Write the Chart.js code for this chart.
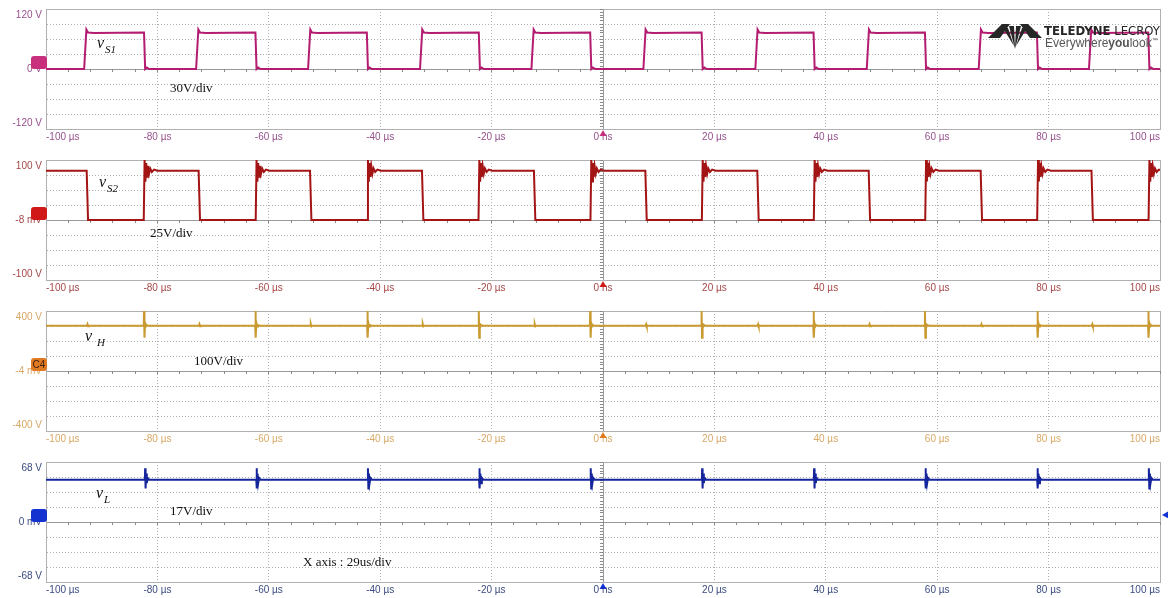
<!DOCTYPE html>
<html lang="es">
<head>
<meta charset="utf-8">
<title>Formas de onda</title>
<script src="https://cdn.jsdelivr.net/npm/chart.js@4.4.1/dist/chart.umd.min.js"></script>
<style>
  html, body { margin: 0; padding: 0; background: #fff; }
  body { position: relative; width: 1168px; height: 598px; overflow: hidden; }
  .panel { position: absolute; left: 0; width: 1168px; height: 145px; }
  .nota { position: absolute; font: 13px "Liberation Serif", "Times New Roman", serif; line-height: 1; color: #111; white-space: nowrap; z-index: 2; }
  .sim { position: absolute; font: italic 16px "Liberation Serif", serif; line-height: 1; color: #111; white-space: nowrap; z-index: 2; }
  .sim span { font-size: 11px; position: relative; top: 5px; margin-left: 1px; }
  .marca { position: absolute; z-index: 2; white-space: nowrap; }
</style>
</head>
<body>
<div class="panel" style="top:0"><canvas id="c0"></canvas></div>
<div class="panel" style="top:151px"><canvas id="c1"></canvas></div>
<div class="panel" style="top:302px"><canvas id="c2"></canvas></div>
<div class="panel" style="top:453px"><canvas id="c3"></canvas></div>

<div class="sim" style="left:97px;top:35px">v<span>S1</span></div>
<div class="nota" style="left:170px;top:81px">30V/div</div>
<div class="sim" style="left:99px;top:174px">v<span>S2</span></div>
<div class="nota" style="left:150px;top:226px">25V/div</div>
<div class="sim" style="left:85px;top:328px">v<span style="margin-left:5px">H</span></div>
<div class="nota" style="left:194px;top:354px">100V/div</div>
<div class="sim" style="left:96px;top:485px">v<span>L</span></div>
<div class="nota" style="left:170px;top:504px">17V/div</div>
<div class="nota" style="left:303px;top:555px">X axis : 29us/div</div>

<svg class="marca" style="left:987px;top:22px" width="56" height="28" viewBox="0 0 56 28">
  <polygon points="1,16 15,2 23,2 13,16" fill="#262626"/>
  <polygon points="55,16 41,2 33,2 43,16" fill="#262626"/>
  <polygon points="22,4 27,4 28,27" fill="#262626"/>
  <polygon points="29,4 34,4 28,27" fill="#262626"/>
  <polygon points="16,6 21,6 27,24" fill="#262626"/>
  <polygon points="40,6 35,6 29,24" fill="#262626"/>
</svg>
<div class="marca" style="left:1044px;top:24px;font:13px 'DejaVu Sans Condensed','Liberation Sans Narrow',sans-serif;line-height:1;color:#262626">
  <b>TELEDYNE</b> LECROY</div>
<div class="marca" style="left:1045px;top:37px;font:12px 'Liberation Sans',sans-serif;line-height:1;color:#555">
  Everywhere<b>you</b>look<sup style="font-size:6px">™</sup></div>

<script>
// Eje de tiempo (µs)
const tiempoMin = -100;
const tiempoMax = 100;
const tiempoPaso = 20;

// Escalas verticales (V en el borde superior) y etiqueta central de cada canal
const escalas = [120, 100, 400, 68];
const etiquetasCentro = ['0 V', '-8 mV', '-4 mV', '0 mV'];

const s1Subidas = [-92.9, -72.8, -52.7, -32.6, -12.6, 7.5, 27.6, 47.6, 67.7, 87.5];
const s1Bajadas = [-82.3, -62.3, -42.3, -22.2, -2.2, 17.8, 37.9, 57.9, 78.0, 98.0];
// forma de cada flanco: [desfase µs, tensión V]
const s1FormaSubida = [[-0.25, 0], [0.15, 79], [0.45, 73], [1.5, 72]];
const s1FormaBajada = [[-0.1, 73], [0.1, 0], [0.4, 3], [0.8, 0]];

// vS2
const s2Bajadas = [-92.6, -72.5, -52.5, -32.4, -12.3, 7.7, 27.8, 47.8, 67.9, 87.8];
const s2Subidas = [-82.4, -62.3, -42.3, -22.3, -2.2, 17.8, 37.9, 57.9, 78.0, 98.0];
const s2FormaBajada = [[-0.1, 82], [0.15, 0]];
const s2FormaSubida = [[-0.05, 0], [0.1, 100], [0.25, 64], [0.4, 95], [0.55, 72], [0.7, 90],
                       [0.9, 77], [1.1, 86], [1.4, 80], [1.8, 84], [2.4, 82]];

// vH
const hPicos = [-82.4, -62.4, -42.3, -22.3, -2.3, 17.7, 37.8, 57.8, 78.0, 97.9];
const hMarcas = [-92.6, -72.5, -52.5, -32.4, -12.3, 7.7, 27.8, 47.8, 67.9, 87.8];
const hFormaPico = [[-0.05, 302], [0.0, 400], [0.08, 222], [0.18, 318], [0.3, 296], [0.45, 306], [0.7, 302]];
const hFormaMarca = [[-0.05, 302], [0.05, 312], [0.15, 298], [0.3, 302]];

// vL
const lPicos = [-82.2, -62.2, -42.2, -22.2, -2.2, 17.8, 37.9, 57.9, 78.0, 98.0];
const lFormaPico = [[-0.05, 48], [0.0, 61], [0.08, 38], [0.18, 55], [0.3, 44], [0.45, 50], [0.7, 48]];

// Niveles iniciales en t = -100 µs
const nivelesIniciales = [0, 82, 302, 48];

// Colores por canal
const coloresTraza = ['#b31c70', '#a31414', '#c99a30', '#15259c'];
const coloresEtiqueta = ['#96508c', '#a64848', '#d8a866', '#3c4c80'];
const coloresMarca = ['#c8307e', '#d01818', '#e07a22', '#1432d0'];
const textosMarca = ['', '', 'C4', ''];

// Arma la lista de puntos a partir de los eventos
function armarTraza(nivelInicial, grupos) {
    const eventos = [];
    grupos.forEach(([tiempos, forma]) => tiempos.forEach(t => eventos.push({ t, forma })));
    eventos.sort((a, b) => a.t - b.t);

    const puntos = [{ x: tiempoMin, y: nivelInicial }];
    eventos.forEach(ev => {
        ev.forma.forEach(([dt, v]) => puntos.push({ x: ev.t + dt, y: v }));
    });
    const ultimo = puntos[puntos.length - 1];
    if (ultimo.x < tiempoMax) puntos.push({ x: tiempoMax, y: ultimo.y });
    return puntos;
}

const trazas = [
    armarTraza(nivelesIniciales[0], [[s1Subidas, s1FormaSubida], [s1Bajadas, s1FormaBajada]]),
    armarTraza(nivelesIniciales[1], [[s2Bajadas, s2FormaBajada], [s2Subidas, s2FormaSubida]]),
    armarTraza(nivelesIniciales[2], [[hPicos, hFormaPico], [hMarcas, hFormaMarca]]),
    armarTraza(nivelesIniciales[3], [[lPicos, lFormaPico]])
];

// Marcador de canal, flecha de disparo y nivel de disparo
const marcasCanal = {
    id: 'marcasCanal',
    afterDraw(chart, args, opts) {
        const { ctx, chartArea, scales } = chart;
        const y0 = scales.y.getPixelForValue(0);
        const x0 = scales.x.getPixelForValue(0);
        ctx.save();

        ctx.fillStyle = opts.color;
        ctx.beginPath();
        ctx.roundRect(chartArea.left - 15, y0 - 13, 16, 13, 3);
        ctx.fill();
        if (opts.texto) {
            ctx.fillStyle = '#402010';
            ctx.font = '10px "Liberation Sans"';
            ctx.textAlign = 'center';
            ctx.textBaseline = 'middle';
            ctx.fillText(opts.texto, chartArea.left - 7, y0 - 6);
        }

        ctx.fillStyle = opts.color;
        ctx.beginPath();
        ctx.moveTo(x0, chartArea.bottom + 1);
        ctx.lineTo(x0 - 3.5, chartArea.bottom + 7);
        ctx.lineTo(x0 + 3.5, chartArea.bottom + 7);
        ctx.closePath();
        ctx.fill();

        if (opts.nivel !== undefined) {
            const yl = scales.y.getPixelForValue(opts.nivel);
            ctx.beginPath();
            ctx.moveTo(chartArea.right + 2, yl);
            ctx.lineTo(chartArea.right + 9, yl - 4);
            ctx.lineTo(chartArea.right + 9, yl + 4);
            ctx.closePath();
            ctx.fill();
        }
        ctx.restore();
    }
};

const fuenteEjes = { family: 'Liberation Sans', size: 10 };

function sinRelleno(s) {
    s.paddingLeft = 0; s.paddingRight = 0; s.paddingTop = 0; s.paddingBottom = 0;
}

function crearPanel(i) {
    const esc = escalas[i];
    const esBorde = (v, min, max) => v === 0 || Math.abs(v - min) < 1e-9 || Math.abs(v - max) < 1e-9;

    return new Chart(document.getElementById('c' + i), {
        type: 'line',
        data: {
            datasets: [{
                data: trazas[i],
                xAxisID: 'x',
                yAxisID: 'y',
                borderColor: coloresTraza[i],
                borderWidth: 2,
                pointRadius: 0,
                tension: 0
            }]
        },
        options: {
            animation: false,
            responsive: true,
            maintainAspectRatio: false,
            layout: { padding: { top: 9, right: 8, bottom: 0, left: 0 } },
            plugins: {
                legend: { display: false },
                tooltip: { enabled: false },
                marcasCanal: {
                    color: coloresMarca[i],
                    texto: textosMarca[i],
                    nivel: i === 3 ? 8 : undefined
                }
            },
            scales: {
                x: {
                    type: 'linear',
                    min: tiempoMin,
                    max: tiempoMax,
                    ticks: {
                        stepSize: tiempoPaso,
                        align: 'inner',
                        autoSkip: false,
                        maxRotation: 0,
                        padding: 2,
                        color: coloresEtiqueta[i],
                        font: fuenteEjes,
                        callback: v => v === 0 ? '0 ns' : v + ' µs'
                    },
                    grid: {
                        drawTicks: false,
                        color: ctx => ctx.tick && ctx.tick.value === 0 ? '#9a9a9a' : '#b0b0b0'
                    },
                    border: {
                        color: '#b0b0b0',
                        dash: ctx => ctx.tick && !esBorde(ctx.tick.value, tiempoMin, tiempoMax) ? [1, 2] : []
                    },
                    afterFit: s => { s.height = 16; sinRelleno(s); }
                },
                y: {
                    min: -esc,
                    max: esc,
                    ticks: {
                        stepSize: esc / 4,
                        autoSkip: false,
                        padding: 4,
                        color: coloresEtiqueta[i],
                        font: fuenteEjes,
                        callback: v => {
                            if (Math.abs(v - esc) < 1e-9) return ['', esc + ' V'];
                            if (Math.abs(v + esc) < 1e-9) return ['-' + esc + ' V', ''];
                            if (v === 0) return etiquetasCentro[i];
                            return '';
                        }
                    },
                    grid: {
                        drawTicks: false,
                        color: ctx => ctx.tick && ctx.tick.value === 0 ? '#9a9a9a' : '#b0b0b0'
                    },
                    border: {
                        color: '#b0b0b0',
                        dash: ctx => ctx.tick && !esBorde(ctx.tick.value, -esc, esc) ? [1, 2] : []
                    },
                    afterFit: s => { s.width = 46; sinRelleno(s); }
                },
                // subdivisiones sobre los ejes centrales
                xm: {
                    type: 'linear',
                    axis: 'x',
                    position: { y: 0 },
                    min: tiempoMin,
                    max: tiempoMax,
                    ticks: { stepSize: tiempoPaso / 5, display: false },
                    grid: { drawOnChartArea: false, tickLength: 3, color: '#8a8a8a' },
                    border: { display: false },
                    afterFit: sinRelleno
                },
                ym: {
                    type: 'linear',
                    axis: 'y',
                    position: { x: 0 },
                    min: -esc,
                    max: esc,
                    ticks: { stepSize: esc / 20, display: false },
                    grid: { drawOnChartArea: false, tickLength: 3, color: '#8a8a8a' },
                    border: { display: false },
                    afterFit: sinRelleno
                }
            }
        },
        plugins: [marcasCanal]
    });
}

document.addEventListener('DOMContentLoaded', () => {
    for (let i = 0; i < 4; i++) crearPanel(i);
});
</script>
</body>
</html>
